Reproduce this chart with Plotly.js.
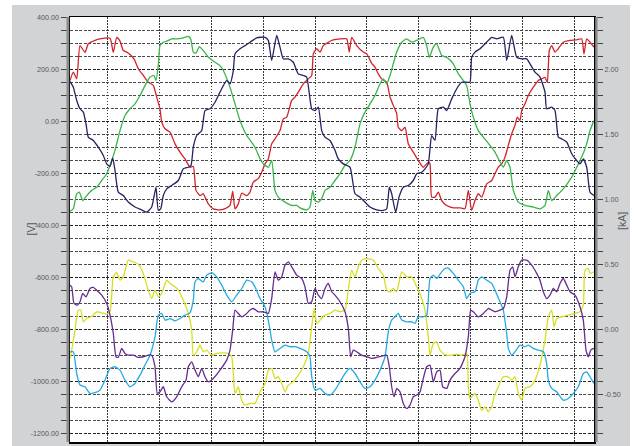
<!DOCTYPE html>
<html>
<head>
<meta charset="utf-8">
<script src="https://cdn.plot.ly/plotly-3.0.1.min.js"></script>
<style>
html,body{margin:0;padding:0;background:#ffffff;}
#chart{position:absolute;left:12px;top:5px;width:618px;height:441px;}
</style>
</head>
<body>
<div id="chart"></div>
<script>
// x = sample index, y = volts (upper group) / kA (lower group)
const redX = [0,3.3,6.7,10,15,18.3,25,30,40,43.3,46.7,50,53.3,56.7,60,64,68.3,73.3,78.3,83.3,86.7,90,91.7,95,100,105,110,115,120,123.3,126,130,133.3,138.3,143.3,150,156.7,160,162.7,165,168.3,171.7,176.7,180,183.3,188.3,191.7,195,198.3,201.7,205,210,213.3,216.7,221.7,225,228.3,233.3,238.3,241.7,243.3,246.7,250,253.3,258.3,263.3,270,276.7,279.3,281.7,286.7,293.3,296.7,301.7,305,308.3,311.7,316.7,320,323.3,326.7,328.3,331.7,335,338.3,343.3,348.3,353.3,358.3,360,361.7,365,368.3,371.7,376.7,383.3,390,395,398.3,401.7,405,408.3,411.7,416.7,421.7,425,428.3,431.7,435,438.3,441.7,445,447.3,450,451.7,455,458.3,463.3,468.3,471.7,475,477.3,479.3,481.7,485,488.3,493.3,500,506.7,511.7,514,516.7,520,524];
const redV = [158,190,164,292,266,299,312,318,320,266,324,309,273,267,258,241,203,177,151,139,94,49,-2,-28,-41,-86,-118,-144,-176,-173,-265,-285,-278,-317,-336,-340,-332,-323,-268,-336,-317,-276,-285,-272,-233,-220,-195,-163,-144,-86,-67,-35,10,17,81,94,113,145,164,177,260,280,267,292,305,314,318,318,267,324,292,267,260,224,209,183,164,151,94,62,30,-22,-35,-22,-86,-118,-150,-176,-156,-163,-291,-291,-272,-304,-323,-332,-332,-336,-265,-342,-304,-278,-291,-240,-227,-201,-176,-163,-137,-92,-47,-15,17,4,42,68,100,132,158,164,170,151,273,292,267,280,305,312,314,318,260,318,305,286];

const greenX = [0,3.3,6.7,9.3,12.7,16.7,21.7,26.7,31.7,36.7,40,45,50,55,60,65,70,75,80,84,86,88.3,90,93.3,96.7,101.7,106.7,113.3,118.3,120.7,123.3,126,129.3,133.3,138.3,145,150,153.3,160,165,170,176.7,180,185,190,193.3,198.3,201.7,205,208.3,215,221.7,226.7,230,236.7,240,242.7,245,248.3,251.7,255,260,265,270,275,280,285,290,295,300,305,310,313.3,316.7,320,323.3,326.7,331.7,336.7,341.7,346.7,353.3,356.7,359.3,363.3,366.7,371.7,376.7,383.3,388.3,393.3,396.7,400,403.3,408.3,413.3,420,425,430,433.3,436.7,440,443.3,448.3,455,463.3,470,475,478.3,481.7,486.7,493.3,501.7,506.7,511.7,516.7,520,524];
const greenV = [-345,-336,-278,-272,-304,-285,-265,-253,-227,-201,-169,-111,-35,23,49,68,100,138,171,177,158,215,292,305,309,318,318,322,327,318,267,263,288,273,247,228,215,196,132,68,4,-54,-71,-99,-143,-163,-176,-150,-265,-291,-310,-323,-323,-332,-340,-329,-265,-304,-310,-297,-265,-253,-227,-201,-169,-150,-99,-9,36,68,100,145,164,145,177,222,267,305,318,305,312,324,292,247,286,299,254,247,222,183,158,138,68,17,-35,-60,-92,-118,-156,-176,-150,-176,-265,-310,-323,-329,-336,-323,-265,-304,-285,-259,-214,-176,-137,-86,-35,4];

const navyX = [0,3.3,6.7,10,13.3,16,18.3,23.3,28.3,33.3,36.7,40,42.7,45,48.3,53.3,58.3,65,71.7,76.7,81.7,86,88.3,90.7,93.3,96.7,101.7,108.3,113.3,118.3,121,123.3,126.7,131.7,135,140,145,150,156.7,160,163.3,165,170,175,180,186.7,195,198.3,201.7,206.7,210,213.3,218.3,223.3,228.3,233.3,236.7,241.7,245,248.3,251.7,255,260,265,268.3,273.3,280,285,290,295,300,306.7,313.3,316.7,319.3,321.7,325.7,329,333.3,338.3,343.3,346.7,351.7,355,358.3,360,361.7,365,368.3,373.3,376.7,381.7,386.7,391.7,396.7,400,401.7,405,410,416.7,421.7,426.7,433.3,436.7,441.7,446.7,451.7,456.7,460,465,470,475,476.7,481.7,485,488.3,491.7,496.7,501.7,506.7,510,513.3,516.7,520,524];
const navyV = [154,132,81,49,36,-9,-60,-73,-99,-131,-163,-173,-140,-188,-272,-285,-310,-329,-340,-349,-329,-253,-342,-336,-285,-259,-246,-227,-182,-176,-169,-99,-54,-35,42,49,74,113,158,145,196,260,280,292,305,322,324,312,235,331,286,241,241,228,183,177,171,49,42,55,-35,-60,-73,-111,-144,-163,-176,-278,-291,-310,-329,-340,-342,-336,-253,-278,-349,-291,-253,-246,-227,-201,-195,-182,-163,-105,-54,-73,49,55,42,87,126,151,151,151,247,267,280,305,324,318,324,235,331,247,241,241,222,190,171,113,49,55,42,-60,-67,-79,-124,-150,-163,-144,-176,-272,-285];

const yellowX = [0,1.7,5,8.3,10.7,13.3,16.7,21.7,26.7,31.7,36.7,40,43.3,46.7,50,53.3,58.3,63.3,68.3,73.3,78.3,81.7,85,88.3,91.7,96.7,100,105,108.3,113.3,118.3,121.7,123.3,126.7,130,133.3,136.7,141.7,146.7,153.3,158.3,161.7,165,168.3,171.7,175,180,185,190,195,198.3,201.7,205,208.3,211.7,215,218.3,223.3,228.3,233.3,238.3,241.7,244.3,246.7,250,255,260,265,270,275,278.3,281.7,285,288.3,291.7,296.7,303.3,308.3,313.3,316.7,320,323.3,326.7,331.7,336.7,341.7,346.7,351.7,355,358.3,360,363.3,366.7,370,373.3,376.7,381.7,386.7,391.7,396.7,398.3,400,403.3,405,408.3,411.7,415,418.3,421.7,424,428.3,433.3,438.3,441.7,445,448.3,451.7,455,460,465,470,475,478.3,481.7,484,486.7,491.7,498.3,505,510,513.3,515,518.3,520,524];
const yellowA = [-0.223,-0.159,-0.005,0.149,0.149,0.059,0.084,0.102,0.136,0.128,0.118,0.136,0.405,0.438,0.379,0.405,0.533,0.520,0.502,0.431,0.302,0.238,0.302,0.251,0.277,0.379,0.354,0.328,0.302,0.225,0.123,-0.005,-0.198,-0.172,-0.121,-0.172,-0.159,-0.198,-0.185,-0.180,-0.185,-0.210,-0.492,-0.441,-0.544,-0.582,-0.569,-0.569,-0.480,-0.416,-0.313,-0.300,-0.377,-0.364,-0.416,-0.480,-0.428,-0.403,-0.351,-0.287,-0.185,0.020,0.161,0.046,0.072,0.110,0.123,0.149,0.136,0.149,0.302,0.456,0.405,0.482,0.533,0.546,0.533,0.469,0.418,0.302,0.289,0.315,0.289,0.443,0.405,0.405,0.328,0.238,0.149,-0.057,-0.198,-0.108,-0.095,-0.159,-0.185,-0.198,-0.198,-0.190,-0.198,-0.185,-0.441,-0.531,-0.505,-0.492,-0.544,-0.621,-0.595,-0.634,-0.595,-0.518,-0.441,-0.364,-0.364,-0.390,-0.364,-0.492,-0.544,-0.454,-0.441,-0.390,-0.274,-0.082,0.097,0.149,0.020,0.084,0.097,0.110,0.123,0.136,0.187,0.456,0.469,0.431,0.443];

const blueX = [0,3.3,6.7,10,15,20,25,30,35,40,45,50,55,60,65,70,75,80,85,88.3,91.7,95,100,105,110,115,120,123.3,125,128.3,133.3,136.7,141.7,146.7,151.7,156.7,161.7,166.7,171.7,176.7,181.7,185,190,195,198.3,201.7,205,210,215,220,225,230,236.7,240,241.7,245,250,255,260,265,270,275,280,285,290,295,300,305,310,315,318.3,321.7,325,328.3,331.7,336.7,341.7,345,348.3,353.3,356.7,360,363.3,366.7,371.7,375,378.3,383.3,388.3,393.3,396.7,400,405,408.3,411.7,416.7,421.7,425,430,433.3,436.7,438.3,441.7,445,450,455,458.3,463.3,468.3,473.3,476.7,478.3,481.7,486.7,493.3,498.3,503.3,508.3,513.3,516.7,520,524];
const blueA = [-0.172,-0.172,-0.339,-0.428,-0.441,-0.492,-0.487,-0.467,-0.390,-0.300,-0.287,-0.313,-0.390,-0.441,-0.416,-0.351,-0.274,-0.198,-0.057,0.110,0.123,0.072,0.084,0.066,0.084,0.110,0.128,0.225,0.366,0.392,0.366,0.418,0.436,0.405,0.341,0.264,0.213,0.264,0.315,0.379,0.366,0.328,0.238,0.174,0.072,-0.082,-0.172,-0.146,-0.121,-0.133,-0.133,-0.146,-0.172,-0.210,-0.364,-0.467,-0.454,-0.492,-0.505,-0.467,-0.403,-0.339,-0.300,-0.339,-0.403,-0.454,-0.441,-0.390,-0.313,-0.210,-0.018,0.072,0.097,0.123,0.072,0.059,0.059,0.046,0.097,0.097,0.110,0.392,0.418,0.392,0.443,0.469,0.472,0.431,0.379,0.328,0.238,0.277,0.290,0.379,0.405,0.379,0.354,0.302,0.213,0.149,-0.031,-0.146,-0.198,-0.172,-0.121,-0.133,-0.121,-0.146,-0.159,-0.172,-0.262,-0.390,-0.454,-0.480,-0.544,-0.531,-0.492,-0.441,-0.339,-0.326,-0.364,-0.416];

const purpleX = [0,1.7,4,7.3,10,12.7,16,20,23.3,26.7,31.7,36.7,40,43.3,46,48.3,51.7,55,58.3,63.3,68.3,73.3,78.3,81.7,85,87.3,90,93.3,96.7,101.7,106.7,111.7,116,118.3,121.7,125,128.3,131.7,135,138.3,143.3,150,156.7,160,162.7,165,168.3,171.7,176.7,180,183.3,188.3,193.3,198.3,201.7,205,208.3,211.7,215,218.3,221.7,226.7,231.7,235,238.3,241.7,245,248.3,251.7,255,258.3,261.7,265,270,275,278.3,280.7,283.3,286.7,291.7,296.7,301.7,306.7,311.7,316.7,319.3,321.7,324,326.7,330,333.3,336.7,340,343.3,346.7,350,353.3,356.7,360,363.3,366.7,370,372.7,376.7,380,385,390,395,398.3,400.7,403.3,408.3,413.3,418.3,421.7,425,430,433.3,436.7,440,442.7,445,448.3,451.7,456.7,461.7,466.7,470,473.3,476.7,480,483.3,486.7,490,493.3,496.7,500,505,510,513.3,516,518.3,520.7,524];
const purpleA = [0.341,0.328,0.200,0.187,0.213,0.277,0.251,0.315,0.323,0.302,0.264,0.200,0.110,-0.031,-0.210,-0.215,-0.146,-0.185,-0.198,-0.198,-0.215,-0.210,-0.198,-0.198,-0.287,-0.492,-0.480,-0.441,-0.518,-0.557,-0.518,-0.441,-0.390,-0.287,-0.249,-0.313,-0.364,-0.300,-0.364,-0.403,-0.377,-0.313,-0.236,-0.159,-0.005,0.149,0.123,0.097,0.123,0.149,0.161,0.136,0.136,0.123,0.238,0.443,0.379,0.405,0.495,0.520,0.482,0.418,0.392,0.328,0.200,0.213,0.315,0.264,0.238,0.315,0.354,0.290,0.264,0.213,0.136,0.008,-0.210,-0.159,-0.172,-0.198,-0.210,-0.223,-0.215,-0.205,-0.198,-0.287,-0.441,-0.518,-0.454,-0.480,-0.569,-0.608,-0.582,-0.518,-0.505,-0.480,-0.377,-0.287,-0.274,-0.403,-0.326,-0.313,-0.441,-0.454,-0.390,-0.339,-0.300,-0.210,-0.057,0.149,0.136,0.097,0.123,0.161,0.149,0.136,0.149,0.161,0.251,0.456,0.482,0.405,0.482,0.533,0.533,0.495,0.431,0.379,0.290,0.238,0.264,0.315,0.290,0.354,0.392,0.341,0.290,0.264,0.174,0.072,-0.159,-0.210,-0.159,-0.146];

const vTickVals = [400,200,0,-200,-400,-600,-800,-1000,-1200];
const vTickText = ['400.00','200.00','0.00','-200.00','-400.00','-600.00','-800.00','-1000.00','-1200.00'];
const kaTickVals = [2,1.5,1,0.5,0,-0.5];
const kaTickText = ['2.00','1.50','1.00','0.50','0.00','-0.50'];
const vTitle = '[V]';
const kaTitle = '[kA]';

const lineStyle = (c) => ({color: c, width: 1.3, shape: 'spline', smoothing: 0.5});
const traces = [
  {x: redX, y: redV, yaxis: 'y', mode: 'lines', line: lineStyle('#d2232a')},
  {x: greenX, y: greenV, yaxis: 'y', mode: 'lines', line: lineStyle('#39b54a')},
  {x: navyX, y: navyV, yaxis: 'y', mode: 'lines', line: lineStyle('#262262')},
  {x: yellowX, y: yellowA, yaxis: 'y2', mode: 'lines', line: lineStyle('#d7df23')},
  {x: blueX, y: blueA, yaxis: 'y2', mode: 'lines', line: lineStyle('#27aae1')},
  {x: purpleX, y: purpleA, yaxis: 'y2', mode: 'lines', line: lineStyle('#662d91')}
];

const fontFam = 'Liberation Sans, Arial, sans-serif';
const tickFont = {family: fontFam, size: 7.2, color: '#58595b'};
const titleFont = {family: fontFam, size: 10.5, color: '#58595b'};
const layout = {
  width: 618, height: 441,
  margin: {l: 58, r: 36, t: 12, b: 4, pad: 0},
  paper_bgcolor: '#d1d3d4',
  plot_bgcolor: '#ffffff',
  showlegend: false,
  xaxis: {
    range: [0, 524], showticklabels: false, ticks: '', zeroline: false,
    showgrid: true, tick0: 37.8, dtick: 51.8, gridcolor: '#3a3a3a', gridwidth: 1, griddash: '1.5px,1.5px',
    showline: true, mirror: true, linecolor: '#000000', linewidth: 1.5
  },
  yaxis: {
    range: [-1233, 402], tickmode: 'array', tickvals: vTickVals, ticktext: vTickText,
    ticks: 'outside', ticklen: 8, tickcolor: '#444444', tickwidth: 1,
    tickfont: tickFont, zeroline: false,
    showgrid: true, gridcolor: '#222222', gridwidth: 1, griddash: '3px,1.5px',
    minor: {tickmode: 'linear', tick0: 0, dtick: 50, ticks: 'outside', ticklen: 8, tickcolor: '#444444',
            showgrid: true, gridcolor: '#4a4a4a', gridwidth: 1, griddash: '3px,1.5px'},
    showline: true, mirror: true, linecolor: '#000000', linewidth: 1.5
  },
  yaxis2: {
    range: [-0.866, 2.404], overlaying: 'y', side: 'right', anchor: 'x',
    tickmode: 'array', tickvals: kaTickVals, ticktext: kaTickText,
    ticks: 'outside', ticklen: 8, tickcolor: '#444444', tickwidth: 1,
    tickfont: tickFont, zeroline: false, showgrid: false,
    minor: {tickmode: 'linear', tick0: 0, dtick: 0.1, ticks: 'outside', ticklen: 8, tickcolor: '#444444', showgrid: false}
  },
  annotations: [
    {text: vTitle, xref: 'paper', yref: 'paper', x: -40/524, y: 0.5, xanchor: 'center', yanchor: 'middle',
     textangle: -90, showarrow: false, font: titleFont},
    {text: kaTitle, xref: 'paper', yref: 'paper', x: 1 + 28/524, y: 0.52, xanchor: 'center', yanchor: 'middle',
     textangle: -90, showarrow: false, font: titleFont}
  ],
  shapes: [
    {type: 'rect', xref: 'paper', yref: 'paper', x0: -3.5/524, x1: -0.8/524, y0: 0, y1: 1,
     fillcolor: '#8a8c8e', line: {width: 0}, layer: 'above'},
    {type: 'rect', xref: 'paper', yref: 'paper', x0: 1 + 1.2/524, x1: 1 + 3.6/524, y0: 0, y1: 1,
     fillcolor: '#8a8c8e', line: {width: 0}, layer: 'above'}
  ]
};

Plotly.newPlot('chart', traces, layout, {staticPlot: true, displayModeBar: false});
</script>
</body>
</html>
